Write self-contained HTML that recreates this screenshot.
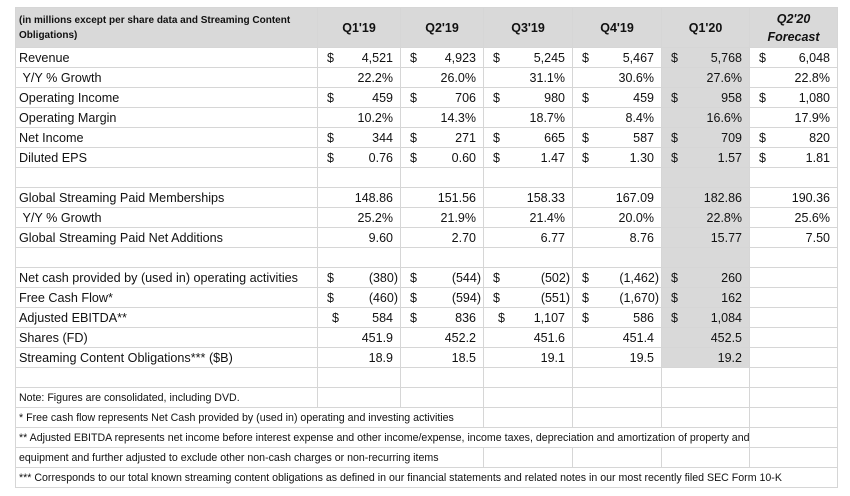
<!DOCTYPE html>
<html><head><meta charset="utf-8"><style>
body{margin:0;background:#fff;width:850px;height:496px;overflow:hidden;font-family:"Liberation Sans",Arial,sans-serif;}
table{position:absolute;left:15px;top:7px;width:823px;border-collapse:collapse;table-layout:fixed;border:1px solid #000;}
td{border:1px solid #d6d6d6;height:19px;padding:0;font-size:12.5px;color:#111;white-space:nowrap;overflow:visible;}
tr.h td{height:39px;background:#d9d9d9;font-weight:bold;text-align:center;font-size:12.5px;}
td.l{padding-left:3px;overflow:hidden;}
td.l span.s{display:inline-block;font-size:13px;transform:scaleX(0.97);transform-origin:0 50%;}
td.g{background:#d9d9d9;}
.c{display:flex;justify-content:space-between;padding:0 7px 0 9px;}
.cn{display:flex;justify-content:space-between;padding:0 2px 0 9px;}
.r{text-align:right;padding-right:7px;}
tr.n td{font-size:11px;}
tr.n td.l{overflow:visible;}
tr.n td.l span.s{font-size:11px;transform:scaleX(0.965);}
</style></head><body>
<table>
<colgroup><col style="width:302px"><col style="width:83px"><col style="width:83px"><col style="width:89px"><col style="width:89px"><col style="width:88px"><col style="width:88px"></colgroup>
<tr class="h"><td style="text-align:left;padding-left:3px;font-size:10px;line-height:15px;white-space:normal">(in millions except per share data and Streaming Content<br>Obligations)</td><td>Q1'19</td><td>Q2'19</td><td>Q3'19</td><td>Q4'19</td><td>Q1'20</td><td style="font-style:italic;line-height:18px">Q2'20<br>Forecast</td></tr>
<tr><td class="l"><span class="s">Revenue</span></td><td><div class="c"><span>$</span><span>4,521</span></div></td><td><div class="c"><span>$</span><span>4,923</span></div></td><td><div class="c"><span>$</span><span>5,245</span></div></td><td><div class="c"><span>$</span><span>5,467</span></div></td><td class="g"><div class="c"><span>$</span><span>5,768</span></div></td><td><div class="c"><span>$</span><span>6,048</span></div></td></tr>
<tr><td class="l"><span class="s">&nbsp;Y/Y % Growth</span></td><td class="r">22.2%</td><td class="r">26.0%</td><td class="r">31.1%</td><td class="r">30.6%</td><td class="r g">27.6%</td><td class="r">22.8%</td></tr>
<tr><td class="l"><span class="s">Operating Income</span></td><td><div class="c"><span>$</span><span>459</span></div></td><td><div class="c"><span>$</span><span>706</span></div></td><td><div class="c"><span>$</span><span>980</span></div></td><td><div class="c"><span>$</span><span>459</span></div></td><td class="g"><div class="c"><span>$</span><span>958</span></div></td><td><div class="c"><span>$</span><span>1,080</span></div></td></tr>
<tr><td class="l"><span class="s">Operating Margin</span></td><td class="r">10.2%</td><td class="r">14.3%</td><td class="r">18.7%</td><td class="r">8.4%</td><td class="r g">16.6%</td><td class="r">17.9%</td></tr>
<tr><td class="l"><span class="s">Net Income</span></td><td><div class="c"><span>$</span><span>344</span></div></td><td><div class="c"><span>$</span><span>271</span></div></td><td><div class="c"><span>$</span><span>665</span></div></td><td><div class="c"><span>$</span><span>587</span></div></td><td class="g"><div class="c"><span>$</span><span>709</span></div></td><td><div class="c"><span>$</span><span>820</span></div></td></tr>
<tr><td class="l"><span class="s">Diluted EPS</span></td><td><div class="c"><span>$</span><span>0.76</span></div></td><td><div class="c"><span>$</span><span>0.60</span></div></td><td><div class="c"><span>$</span><span>1.47</span></div></td><td><div class="c"><span>$</span><span>1.30</span></div></td><td class="g"><div class="c"><span>$</span><span>1.57</span></div></td><td><div class="c"><span>$</span><span>1.81</span></div></td></tr>
<tr><td></td><td></td><td></td><td></td><td></td><td class="g"></td><td></td></tr>
<tr><td class="l"><span class="s">Global Streaming Paid Memberships</span></td><td class="r">148.86</td><td class="r">151.56</td><td class="r">158.33</td><td class="r">167.09</td><td class="r g">182.86</td><td class="r">190.36</td></tr>
<tr><td class="l"><span class="s">&nbsp;Y/Y % Growth</span></td><td class="r">25.2%</td><td class="r">21.9%</td><td class="r">21.4%</td><td class="r">20.0%</td><td class="r g">22.8%</td><td class="r">25.6%</td></tr>
<tr><td class="l"><span class="s">Global Streaming Paid Net Additions</span></td><td class="r">9.60</td><td class="r">2.70</td><td class="r">6.77</td><td class="r">8.76</td><td class="r g">15.77</td><td class="r">7.50</td></tr>
<tr><td></td><td></td><td></td><td></td><td></td><td class="g"></td><td></td></tr>
<tr><td class="l"><span class="s">Net cash provided by (used in) operating activities</span></td><td><div class="cn"><span>$</span><span>(380)</span></div></td><td><div class="cn"><span>$</span><span>(544)</span></div></td><td><div class="cn"><span>$</span><span>(502)</span></div></td><td><div class="cn"><span>$</span><span>(1,462)</span></div></td><td class="g"><div class="c"><span>$</span><span>260</span></div></td><td></td></tr>
<tr><td class="l"><span class="s">Free Cash Flow*</span></td><td><div class="cn"><span>$</span><span>(460)</span></div></td><td><div class="cn"><span>$</span><span>(594)</span></div></td><td><div class="cn"><span>$</span><span>(551)</span></div></td><td><div class="cn"><span>$</span><span>(1,670)</span></div></td><td class="g"><div class="c"><span>$</span><span>162</span></div></td><td></td></tr>
<tr><td class="l"><span class="s">Adjusted EBITDA**</span></td><td><div class="c" style="padding-left:14px"><span>$</span><span>584</span></div></td><td><div class="c"><span>$</span><span>836</span></div></td><td><div class="c" style="padding-left:14px"><span>$</span><span>1,107</span></div></td><td><div class="c"><span>$</span><span>586</span></div></td><td class="g"><div class="c"><span>$</span><span>1,084</span></div></td><td></td></tr>
<tr><td class="l"><span class="s">Shares (FD)</span></td><td class="r">451.9</td><td class="r">452.2</td><td class="r">451.6</td><td class="r">451.4</td><td class="r g">452.5</td><td></td></tr>
<tr><td class="l"><span class="s">Streaming Content Obligations*** ($B)</span></td><td class="r">18.9</td><td class="r">18.5</td><td class="r">19.1</td><td class="r">19.5</td><td class="r g">19.2</td><td></td></tr>
<tr><td></td><td></td><td></td><td></td><td></td><td></td><td></td></tr>
<tr class="n"><td class="l"><span class="s">Note: Figures are consolidated, including DVD.</span></td><td></td><td></td><td></td><td></td><td></td><td></td></tr>
<tr class="n"><td class="l" colspan="3"><span class="s">* Free cash flow represents Net Cash provided by (used in) operating and investing activities</span></td><td></td><td></td><td></td><td></td></tr>
<tr class="n"><td class="l" colspan="6"><span class="s">** Adjusted EBITDA represents net income before interest expense and other income/expense, income taxes, depreciation and amortization of property and</span></td><td></td></tr>
<tr class="n"><td class="l" colspan="3"><span class="s">equipment and further adjusted to exclude other non-cash charges or non-recurring items</span></td><td></td><td></td><td></td><td></td></tr>
<tr class="n"><td class="l" colspan="7"><span class="s">*** Corresponds to our total known streaming content obligations as defined in our financial statements and related notes in our most recently filed SEC Form 10-K</span></td></tr>
</table>
</body></html>
